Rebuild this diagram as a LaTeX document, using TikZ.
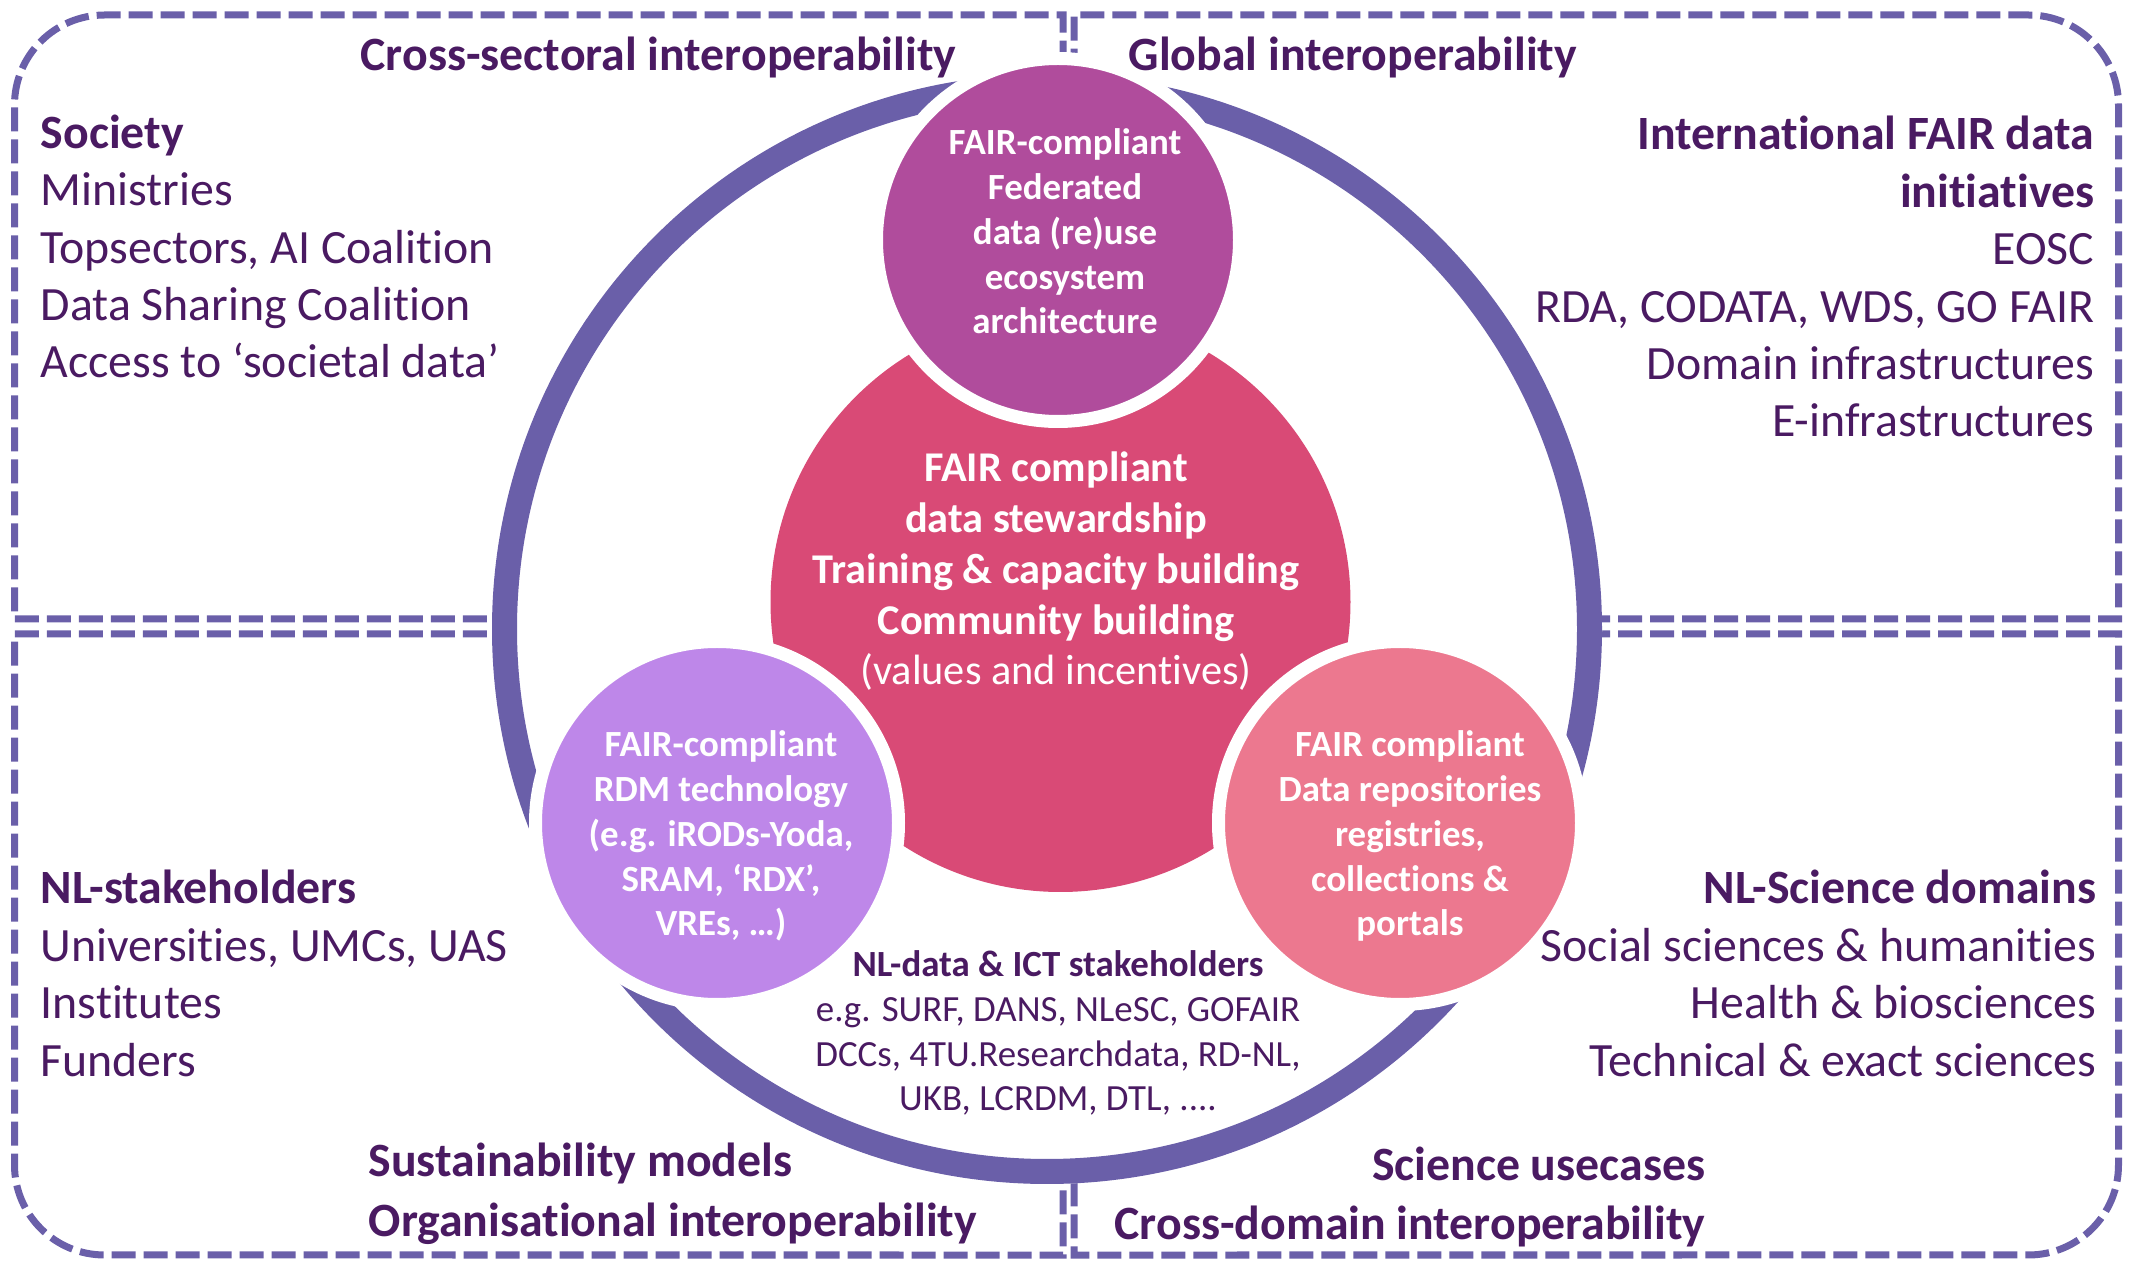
\documentclass[tikz,border=0pt]{standalone}
\usepackage{fontspec}
\setmainfont{Carlito}[Ligatures=TeX, RawFeature={-liga;-clig;-calt;-dlig;-rlig}]

\definecolor{framepurple}{HTML}{6A5FA9}
\definecolor{textpurple}{HTML}{4A1A62}
\definecolor{federatedc}{HTML}{B04C9C}
\definecolor{stewardc}{HTML}{D94A76}
\definecolor{rdmc}{HTML}{BE87E9}
\definecolor{repoc}{HTML}{EC788F}

\tikzset{
  quadrant/.style={draw=framepurple, line width=0.07cm, dash pattern=on 0.24cm off 0.08cm},
  bubble/.style={circle, inner sep=0pt, minimum size=3.63cm, draw=white, line width=0.13cm},
  bigtext/.style={text=textpurple, inner sep=0pt, font=\fontsize{13.6}{16.35}\selectfont},
  bubbletext/.style={text=white, inner sep=0pt, align=center, font=\fontsize{10.5}{12.8}\selectfont\bfseries},
  smalltext/.style={text=textpurple, inner sep=0pt, align=center, font=\fontsize{10.5}{12.8}\selectfont}
}

\begin{document}
\begin{tikzpicture}
   \useasboundingbox (0,0) rectangle (21.29,-12.62);

   % the four dashed quadrants, outer corner rounded
   \draw[quadrant] (10.63,-6.19) -- (0.145,-6.19) -- (0.145,-1.05)
      arc[start angle=180, end angle=90, radius=0.9] -- (10.63,-0.15) -- cycle;
   \draw[quadrant] (10.74,-6.19) -- (21.185,-6.19) -- (21.185,-1.05)
      arc[start angle=0, end angle=90, radius=0.9] -- (10.74,-0.15) -- cycle;
   \draw[quadrant] (10.63,-6.34) -- (0.145,-6.34) -- (0.145,-11.65)
      arc[start angle=180, end angle=270, radius=0.9] -- (10.63,-12.55) -- cycle;
   \draw[quadrant] (10.74,-6.34) -- (21.185,-6.34) -- (21.185,-11.65)
      arc[start angle=0, end angle=-90, radius=0.9] -- (10.74,-12.55) -- cycle;

   % ring
   \coordinate (hub) at (10.47,-6.29);
   \fill[white] (hub) circle[radius=5.55];
   \draw[framepurple, line width=0.25cm] (hub) circle[radius=5.425];

   % circles
   \path (10.605,-6.02) node[circle, inner sep=0pt, minimum size=5.8cm, fill=stewardc] (steward) {};
   \path (10.58,-2.40) node[bubble, fill=federatedc] (federated) {};
   \path (7.17,-8.23) node[bubble, fill=rdmc] (rdmtech) {};
   \path (14.00,-8.23) node[bubble, fill=repoc] (repos) {};

   \path (10.56,-6.85) node[text=white, inner sep=0pt, align=center, anchor=base,
      font=\fontsize{12.06}{14.5}\selectfont] (stewardtext)
   {
     \textbf{FAIR compliant}\\
     \textbf{data stewardship}\\
     \textbf{Training \& capacity building}\\
     \textbf{Community building}\\
     (values and incentives)
   };
   \path (10.65,-3.34) node[bubbletext, anchor=base] (federatedtext)
   {FAIR-compliant\\ Federated\\ data (re)use\\ ecosystem\\ architecture};
   \path (7.21,-9.36) node[bubbletext, anchor=base] (rdmtechtext)
   {FAIR-compliant\\ RDM technology\\ (e.g. iRODs-Yoda,\\ SRAM, `RDX',\\ VREs, …)};
   \path (14.10,-9.36) node[bubbletext, anchor=base] (repostext)
   {FAIR compliant\\ Data repositories\\ registries,\\ collections \&\\ portals};

   % texts in the quadrants
   \path (9.57,-0.71) node[bigtext, anchor=base east, font=\fontsize{13.6}{16.35}\selectfont\bfseries] (crosssec)
   {Cross-sectoral interoperability};
   \path (11.28,-0.71) node[bigtext, anchor=base west, font=\fontsize{13.6}{16.35}\selectfont\bfseries] (global)
   {Global interoperability};
   \path (0.40,-3.78) node[bigtext, anchor=base west, align=left] (society)
   {\textbf{Society}\\ Ministries\\ Topsectors, AI Coalition\\ Data Sharing Coalition\\ Access to `societal data'};
   \path (20.95,-4.37) node[bigtext, anchor=base east, align=right] (intl)
   {\textbf{International FAIR data}\\ \textbf{initiatives}\\ EOSC\\ RDA, CODATA, WDS, GO FAIR\\ Domain infrastructures\\ E-infrastructures};
   \path (0.40,-10.76) node[bigtext, anchor=base west, align=left] (nlstake)
   {\textbf{NL-stakeholders}\\ Universities, UMCs, UAS\\ Institutes\\ Funders};
   \path (20.97,-10.76) node[bigtext, anchor=base east, align=right] (nlscience)
   {\textbf{NL-Science domains}\\ Social sciences \& humanities\\ Health \& biosciences\\ Technical \& exact sciences};
   \path (3.68,-12.36) node[bigtext, anchor=base west, align=left, font=\fontsize{13.6}{16.9}\selectfont\bfseries] (sustain)
   {Sustainability models\\ Organisational interoperability};
   \path (17.06,-12.40) node[bigtext, anchor=base east, align=right, font=\fontsize{13.6}{16.9}\selectfont\bfseries] (usecases)
   {Science usecases\\ Cross-domain interoperability};
   \path (10.58,-11.11) node[smalltext, anchor=base] (ictstake)
   {\textbf{NL-data \& ICT stakeholders}\\ e.g. SURF, DANS, NLeSC, GOFAIR\\ DCCs, 4TU.Researchdata, RD-NL,\\ UKB, LCRDM, DTL, ....};
\end{tikzpicture}
\end{document}
